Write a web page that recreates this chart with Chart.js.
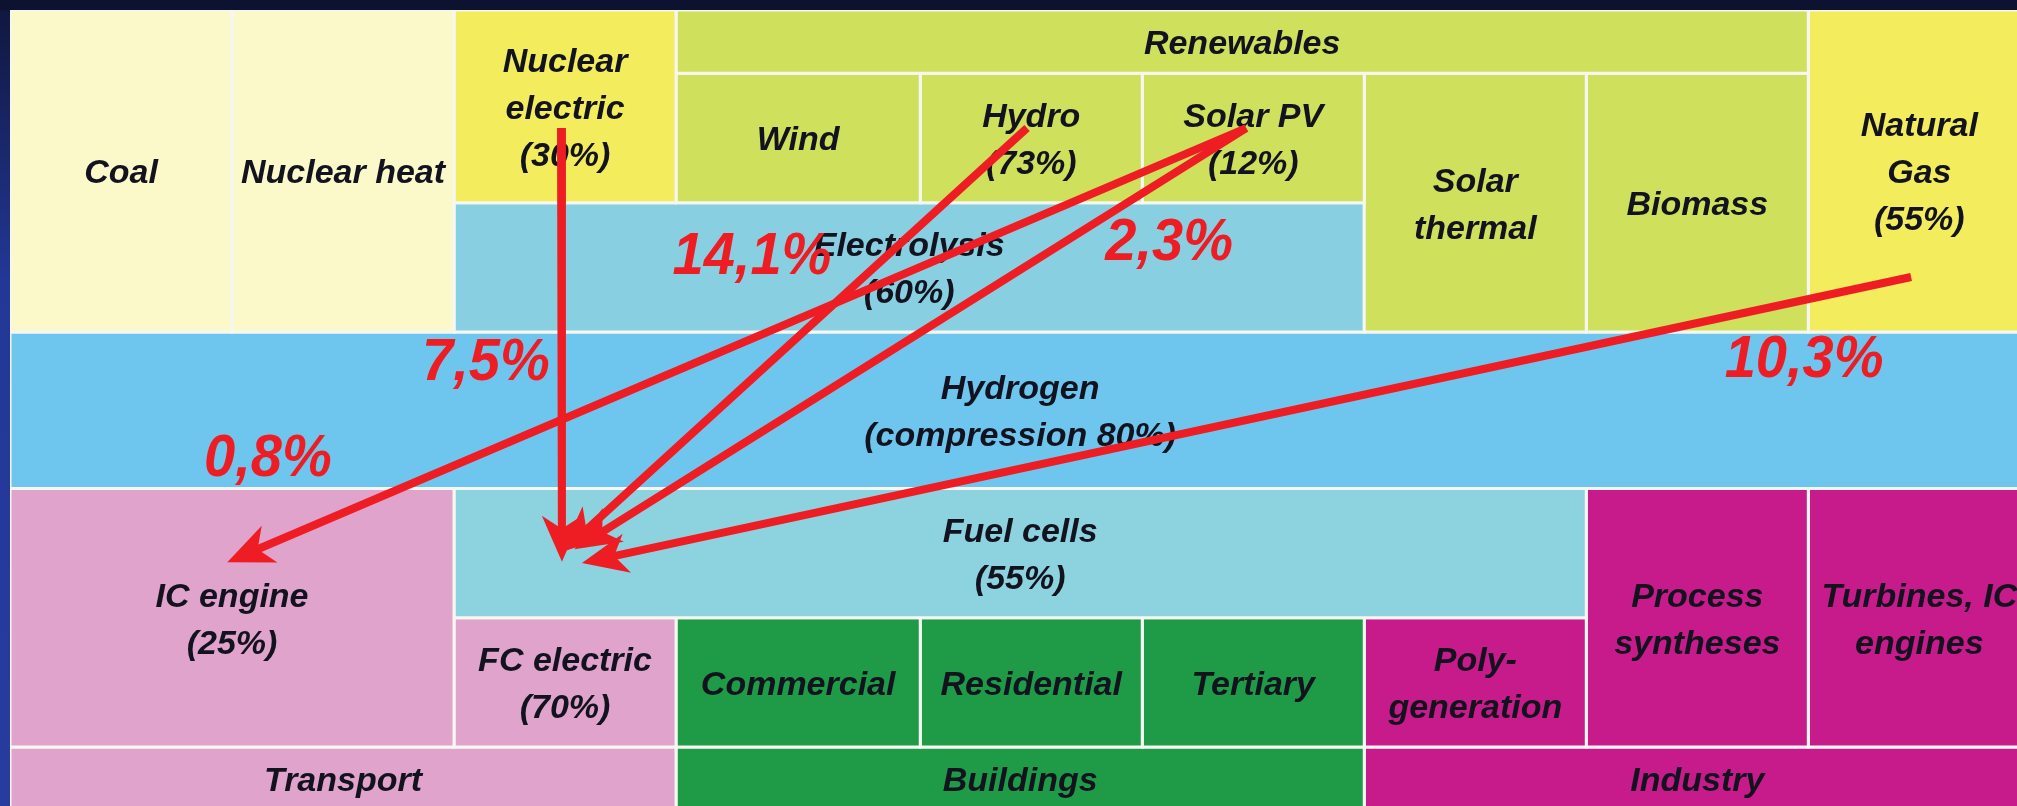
<!DOCTYPE html>
<html>
<head>
<meta charset="utf-8">
<title>Hydrogen pathways</title>
<script src="https://cdn.jsdelivr.net/npm/chart.js@4.4.0/dist/chart.umd.min.js"></script>
<style>
  html, body { margin: 0; padding: 0; background: #0d1230; overflow: hidden; }
  #wrap { position: relative; width: 2017px; height: 806px; }
</style>
</head>
<body>
<div id="wrap"><canvas id="chart"></canvas></div>
<script>
// ─────────────────────────────────────────────
// grid (column / row units)
// ─────────────────────────────────────────────
const colEdges = [0, 1, 2, 3, 4.1, 5.1, 6.1, 7.1, 8.1, 9.1];
const rowEdges = [0, 0.49, 1.49, 2.49, 3.7, 4.7, 5.7, 6.19];

// cells: text lines, colour group, column span, row span
const cellLines = [
    ['Coal'], ['Nuclear heat'], ['Nuclear', 'electric', '(30%)'], ['Renewables'],
    ['Wind'], ['Hydro', '(73%)'], ['Solar PV', '(12%)'], ['Solar', 'thermal'], ['Biomass'],
    ['Natural', 'Gas', '(55%)'], ['Electrolysis', '(60%)'], ['Hydrogen', '(compression 80%)'],
    ['IC engine', '(25%)'], ['Fuel cells', '(55%)'], ['FC electric', '(70%)'],
    ['Commercial'], ['Residential'], ['Tertiary'], ['Poly-', 'generation'],
    ['Process', 'syntheses'], ['Turbines, IC', 'engines'],
    ['Transport'], ['Buildings'], ['Industry']
];
const cellGroups = [
    'pale', 'pale', 'yellow', 'lime',
    'lime', 'lime', 'lime', 'lime', 'lime',
    'yellow', 'electro', 'hydrogen',
    'pink', 'fuel', 'pink',
    'green', 'green', 'green', 'magenta',
    'magenta', 'magenta',
    'pink', 'green', 'magenta'
];
const cellCols = [
    [0, 1], [1, 2], [2, 3], [3, 8],
    [3, 4], [4, 5], [5, 6], [6, 7], [7, 8],
    [8, 9], [2, 6], [0, 9],
    [0, 2], [2, 7], [2, 3],
    [3, 4], [4, 5], [5, 6], [6, 7],
    [7, 8], [8, 9],
    [0, 3], [3, 6], [6, 9]
];
const cellRows = [
    [0, 3], [0, 3], [0, 2], [0, 1],
    [1, 2], [1, 2], [1, 2], [1, 3], [1, 3],
    [0, 3], [2, 3], [3, 4],
    [4, 6], [4, 5], [5, 6],
    [5, 6], [5, 6], [5, 6], [5, 6],
    [4, 6], [4, 6],
    [6, 7], [6, 7], [6, 7]
];

// arrows: start / end in grid units, share labels
const arrowFrom = [[2.482, 0.913], [4.581, 0.913], [5.568, 0.913], [5.568, 0.913], [8.563, 2.065]];
const arrowTo   = [[2.486, 4.19], [2.52, 4.14], [1.02, 4.24], [2.58, 4.13], [2.62, 4.26]];
const shareLabels = ['7,5%', '14,1%', '0,8%', '2,3%', '10,3%'];
const shareAt     = [[2.144, 2.722], [3.342, 1.903], [1.162, 3.465], [5.221, 1.794], [8.081, 2.699]];

const groupColors = {
    pale: '#fbf8c9',
    yellow: '#f3ec5d',
    lime: '#cee05c',
    electro: '#88d0e1',
    hydrogen: '#6ec6ee',
    fuel: '#8dd3df',
    pink: '#e0a3cc',
    green: '#1f9b47',
    magenta: '#c71b8b'
};
const RED = '#ee1d23';
const TEXT_FONT = 'bold italic 34px "Liberation Sans", Arial, sans-serif';
const SHARE_FONT = 'bold italic 59px "Liberation Sans", Arial, sans-serif';

// ─────────────────────────────────────────────
// datasets
// ─────────────────────────────────────────────
const cellDatasets = cellLines.map((lines, i) => {
    const [c0, c1] = cellCols[i];
    const [r0, r1] = cellRows[i];
    const x0 = colEdges[c0], x1 = colEdges[c1];
    const y0 = rowEdges[r0], y1 = rowEdges[r1];
    return {
        label: lines.join(' '),
        data: [
            { x: x0, y: y0 }, { x: x1, y: y0 }, { x: x1, y: y1 },
            { x: x0, y: y1 }, { x: x0, y: y0 }
        ],
        backgroundColor: groupColors[cellGroups[i]],
        borderColor: '#f7f7f2',
        borderWidth: 3,
        fill: 'shape',
        pointRadius: 0,
        tension: 0,
        order: 10,
        isCell: true
    };
});

const arrowDatasets = arrowFrom.map((from, i) => ({
    label: shareLabels[i],
    data: [{ x: from[0], y: from[1] }, { x: arrowTo[i][0], y: arrowTo[i][1] }],
    borderColor: RED,
    borderWidth: 8,
    borderCapStyle: 'butt',
    fill: false,
    pointRadius: 0,
    tension: 0,
    order: 0,
    isArrow: true
}));

// ─────────────────────────────────────────────
// plugins
// ─────────────────────────────────────────────
const backdropPlugin = {
    id: 'backdrop',
    beforeDraw(chart) {
        const { ctx, width, height } = chart;
        ctx.save();
        ctx.fillStyle = '#0d1230';
        ctx.fillRect(0, 0, width, height);
        const g = ctx.createLinearGradient(0, 0, 0, height);
        g.addColorStop(0, '#10163c');
        g.addColorStop(0.35, '#233797');
        g.addColorStop(1, '#283c9e');
        ctx.fillStyle = g;
        ctx.fillRect(0, 10, 10, height);
        ctx.restore();
    }
};

let labelsDrawn = false;
const drawCellText = (chart) => {
    const { ctx } = chart;
    const xs = chart.scales.x, ys = chart.scales.y;
    ctx.save();
    ctx.font = TEXT_FONT;
    ctx.fillStyle = '#131320';
    ctx.textAlign = 'center';
    ctx.textBaseline = 'middle';
    const lh = 47;
    cellLines.forEach((lines, i) => {
        const [c0, c1] = cellCols[i];
        const [r0, r1] = cellRows[i];
        const cx = (xs.getPixelForValue(colEdges[c0]) + xs.getPixelForValue(colEdges[c1])) / 2;
        const cy = (ys.getPixelForValue(rowEdges[r0]) + ys.getPixelForValue(rowEdges[r1])) / 2 + 3;
        const top = cy - (lines.length - 1) * lh / 2;
        lines.forEach((t, k) => ctx.fillText(t, cx, top + k * lh));
    });
    ctx.restore();
};

const overlayPlugin = {
    id: 'overlay',
    beforeDatasetsDraw() {
        labelsDrawn = false;
    },
    beforeDatasetDraw(chart, args) {
        const ds = chart.data.datasets[args.index];
        if (ds.isArrow && !labelsDrawn) {
            drawCellText(chart);
            labelsDrawn = true;
        }
    },
    afterDatasetsDraw(chart) {
        const { ctx } = chart;
        const xs = chart.scales.x, ys = chart.scales.y;

        // arrow heads
        ctx.save();
        ctx.fillStyle = RED;
        chart.data.datasets.forEach((ds, i) => {
            if (!ds.isArrow) return;
            const pts = chart.getDatasetMeta(i).data;
            const a = pts[0], b = pts[1];
            const ang = Math.atan2(b.y - a.y, b.x - a.x);
            const dx = Math.cos(ang), dy = Math.sin(ang);
            const nx = -dy, ny = dx;
            const tx = b.x + dx * 10, ty = b.y + dy * 10;
            const L = 46, W = 20, notch = 33;
            ctx.beginPath();
            ctx.moveTo(tx, ty);
            ctx.lineTo(tx - dx * L + nx * W, ty - dy * L + ny * W);
            ctx.lineTo(tx - dx * notch, ty - dy * notch);
            ctx.lineTo(tx - dx * L - nx * W, ty - dy * L - ny * W);
            ctx.closePath();
            ctx.fill();
        });

        // share labels
        ctx.font = SHARE_FONT;
        ctx.textAlign = 'center';
        ctx.textBaseline = 'middle';
        shareLabels.forEach((t, i) => {
            const px = xs.getPixelForValue(shareAt[i][0]);
            const py = ys.getPixelForValue(shareAt[i][1]);
            ctx.save();
            ctx.translate(px, py);
            ctx.scale(0.95, 1);
            ctx.fillText(t, 0, 2);
            ctx.restore();
        });
        ctx.restore();
    }
};

// ─────────────────────────────────────────────
// chart
// ─────────────────────────────────────────────
new Chart(document.getElementById('chart').getContext('2d'), {
    type: 'line',
    data: { datasets: [...cellDatasets, ...arrowDatasets] },
    options: {
        responsive: true,
        maintainAspectRatio: false,
        animation: false,
        events: [],
        layout: { padding: { left: 10, top: 10, right: 0, bottom: 0 } },
        plugins: {
            legend: { display: false },
            tooltip: { enabled: false }
        },
        scales: {
            x: { type: 'linear', min: 0, max: 9.04, display: false },
            y: { type: 'linear', min: 0, max: 6.156, reverse: true, display: false }
        }
    },
    plugins: [backdropPlugin, overlayPlugin]
});
</script>
</body>
</html>
